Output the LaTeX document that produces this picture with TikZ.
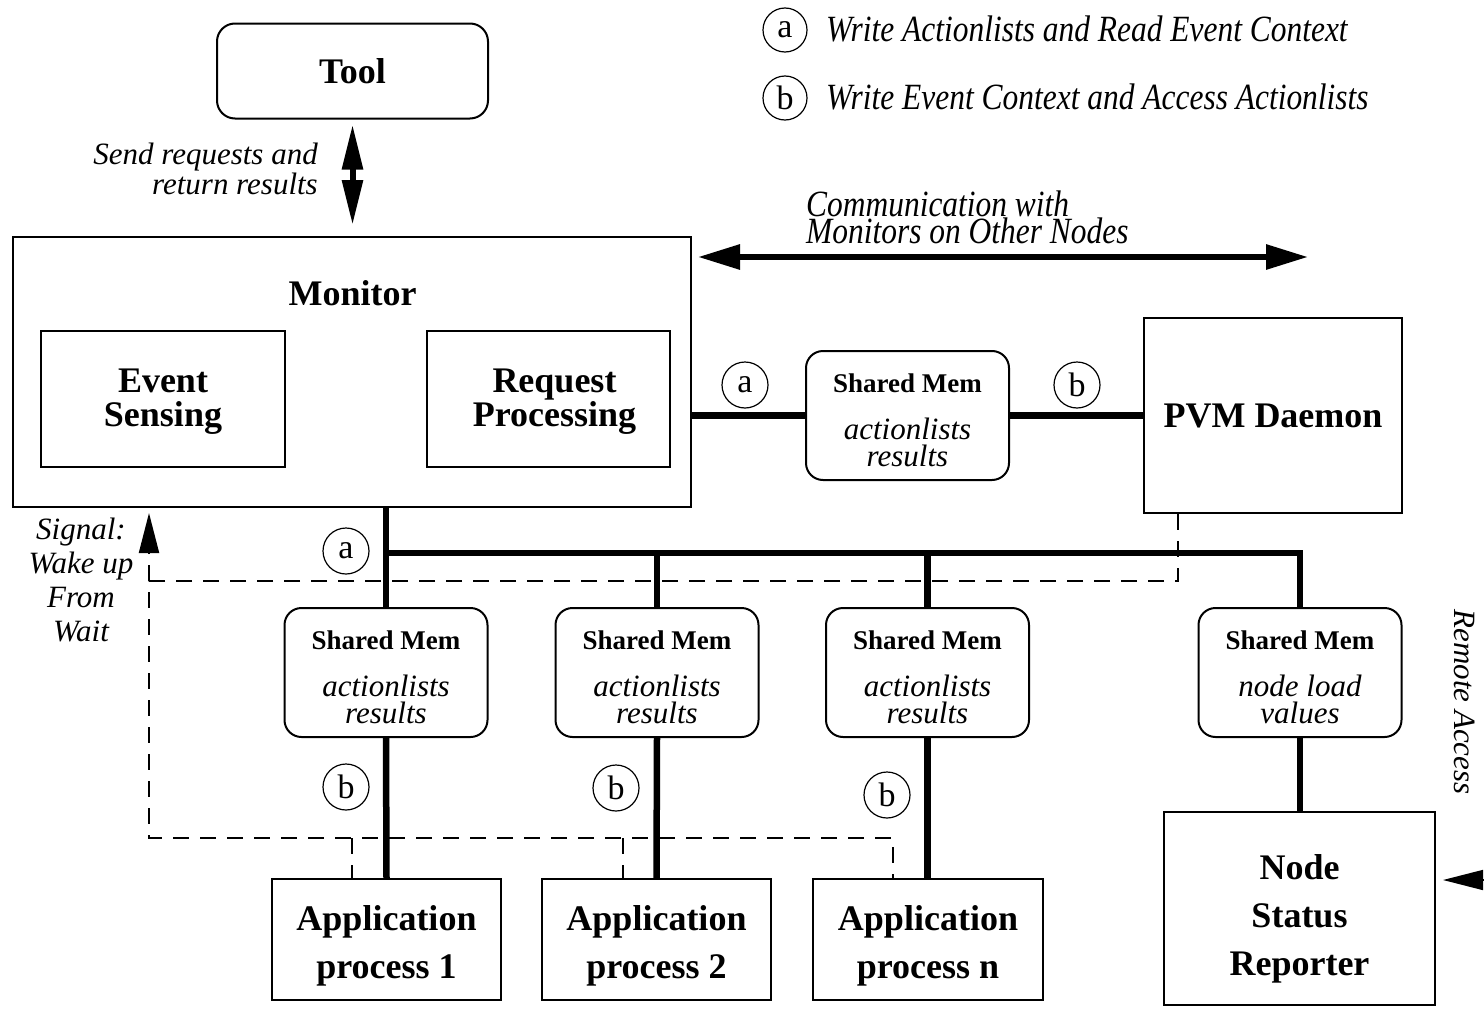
\documentclass[tikz,border=0pt]{standalone}
\usepackage{fontspec}
\setmainfont{Liberation Serif}
\newfontfamily\narrowserif[FakeStretch=0.85]{Liberation Serif}
\usepackage{tikz}
\usetikzlibrary{arrows.meta}

\newcommand{\boxfont}{\fontsize{36}{48}\selectfont\bfseries}
\newcommand{\notefont}{\fontsize{31}{26}\selectfont\itshape}
\newcommand{\keyfont}{\narrowserif\fontsize{37}{27}\selectfont\itshape}
\newcommand{\shmem}[2]{\rule{0pt}{28pt}\textbf{\fontsize{27}{27}\selectfont Shared Mem}\\[20pt]\textit{#1}\\\textit{#2}}

\begin{document}
\begin{tikzpicture}[x=1pt, y=-1pt, line join=miter]
            % Styles
            \tikzstyle{block} = [rectangle, draw=black, line width=2pt, font=\boxfont, align=center, inner sep=0pt]
            \tikzstyle{memory} = [rectangle, rounded corners=17pt, draw=black, line width=2pt, minimum width=203pt, minimum height=129pt, font=\fontsize{31}{27}\selectfont, align=center, inner sep=0pt]
            \tikzstyle{tag} = [circle, draw=black, line width=1.2pt, minimum size=46pt, inner sep=0pt, font=\fontsize{34}{34}\selectfont]
            \tikzstyle{note} = [font=\notefont, inner sep=0pt]
            \tikzstyle{bus} = [line width=6.5pt]
            \tikzstyle{signal} = [line width=2pt, dash pattern=on 16pt off 11pt]
            \tikzstyle{fat} = [line width=6pt]

            \useasboundingbox (0,0) rectangle (1484,1009);

            % Nodes: Tool and Monitor
            \node[block, rounded corners=18pt, minimum width=271pt, minimum height=95pt] (tool) at (352.5,71) {Tool};
            \node[block, minimum width=678pt, minimum height=270pt] (monitor) at (352,372) {};
            \node[font=\boxfont, anchor=base, inner sep=0pt] (monlabel) at (352.5,305) {Monitor};
            \node[block, minimum width=244pt, minimum height=136pt, font=\fontsize{36}{34}\selectfont\bfseries] (sensing) at (163,399) {\rule{0pt}{29pt}Event\\Sensing};
            \node[block, minimum width=243pt, minimum height=136pt, font=\fontsize{36}{34}\selectfont\bfseries] (request) at (548.5,399) {\rule{0pt}{29pt}\hspace*{12pt}Request\\\hspace*{12pt}Processing};

            % Nodes: Shared memory
            \node[memory] (memtop) at (907.5,415.5) {\shmem{actionlists}{results}};
            \node[memory] (mem1) at (386,672.5) {\shmem{actionlists}{results}};
            \node[memory] (mem2) at (657,672.5) {\shmem{actionlists}{results}};
            \node[memory] (mem3) at (927.5,672.5) {\shmem{actionlists}{results}};
            \node[memory] (mem4) at (1300,672.5) {\shmem{node load}{values}};

            % Nodes: Daemon and processes
            \node[block, minimum width=258pt, minimum height=195pt] (pvm) at (1273,415.5) {PVM Daemon};
            \node[block, minimum width=229pt, minimum height=121pt] (app1) at (386.5,939.5) {\rule{0pt}{38pt}Application\\process 1};
            \node[block, minimum width=229pt, minimum height=121pt] (app2) at (656.5,939.5) {\rule{0pt}{38pt}Application\\process 2};
            \node[block, minimum width=230pt, minimum height=121pt] (appn) at (928,939.5) {\rule{0pt}{38pt}Application\\process n};
            \node[block, minimum width=271pt, minimum height=193pt] (reporter) at (1299.5,908.5) {\rule{0pt}{46pt}Node\\Status\\Reporter};

            % Nodes: access tags
            \node[tag] (tagA) at (745,385) {a};
            \node[tag] (tagB) at (1077,385) {b};
            \node[tag] (busA) at (346,551) {a};
            \node[tag] (busB1) at (346,787) {b};
            \node[tag] (busB2) at (616,788) {b};
            \node[tag] (busB3) at (887,795) {b};

            % Legend
            \node[tag, minimum size=44pt] (keyA) at (785,30) {a};
            \node[font=\keyfont, anchor=base west, inner sep=0pt] (keyAtext) at (826,41) {Write Actionlists and Read Event Context};
            \node[tag, minimum size=44pt] (keyB) at (785,98) {b};
            \node[font=\keyfont, anchor=base west, inner sep=0pt] (keyBtext) at (826,109) {Write Event Context and Access Actionlists};

            % Labels (base = last line)
            \node[note, align=right, anchor=base east] (toollabel) at (318,194) {Send requests and\\return results};
            \node[font=\keyfont, align=left, anchor=base west, inner sep=0pt] (commlabel) at (806,243) {Communication with\\Monitors on Other Nodes};
            \node[note, align=center, anchor=base, font=\fontsize{31}{34}\selectfont\itshape] (wakeup) at (81,641) {Signal:\\Wake up\\From\\Wait};
            \node[note, rotate=-90] (remote) at (1465,702) {Remote Access};

            % Free ends
            \coordinate (othernodes) at (1308,257);
            \coordinate (busline) at (0,553);
            \coordinate (sigNE) at (1178,581);
            \coordinate (sigNW) at (149,581);
            \coordinate (sigSW) at (149,838);
            \coordinate (drop1) at (352,838);
            \coordinate (drop2) at (623,838);
            \coordinate (drop3) at (893,838);
            \coordinate (remotesrc) at (1530,880);

            % Request and communication arrows
            \draw[fat, {Triangle[length=45pt,width=20pt]}-{Triangle[length=45pt,width=20pt]}, shorten <=5pt, shorten >=11pt] (tool.south) -- (tool.south |- monitor.north);
            \draw[fat, {Triangle[length=42pt,width=24pt]}-{Triangle[length=42pt,width=24pt]}, shorten <=6pt] (monitor.east |- othernodes) -- (othernodes);

            % Shared memory bus
            \draw[bus] (monitor.east |- memtop.west) -- (memtop.west);
            \draw[bus] (memtop.east) -- (pvm.west);
            \draw[bus] (mem1.north |- monitor.south) -- (mem1.north);
            \draw[bus] (mem1.north |- busline) -| (mem4.north);
            \draw[bus] (mem2.north |- busline) -- (mem2.north);
            \draw[bus] (mem3.north |- busline) -- (mem3.north);
            \draw[bus] (mem1.south) -- (app1.north);
            \draw[bus] (mem2.south) -- (app2.north);
            \draw[bus] (mem3.south) -- (mem3.south |- appn.north);
            \draw[bus] (mem4.south) -- (mem4.south |- reporter.north);

            % Wake up signals
            \draw[signal] (pvm.south -| sigNE) -- (sigNE) -- (sigNW) -- (sigSW) -- (drop3) -- (drop3 |- appn.north);
            \draw[signal] (drop1) -- (drop1 |- app1.north);
            \draw[signal] (drop2) -- (drop2 |- app2.north);
            \draw[signal, -{Triangle[length=40pt,width=20pt]}, shorten >=5pt] (sigNW) -- (sigNW |- monitor.south);

            % Remote access
            \draw[line width=1.5pt, -{Triangle[length=40pt,width=20pt]}, shorten >=7pt] (remotesrc) -- (reporter.east |- remotesrc);
\end{tikzpicture}
\end{document}
